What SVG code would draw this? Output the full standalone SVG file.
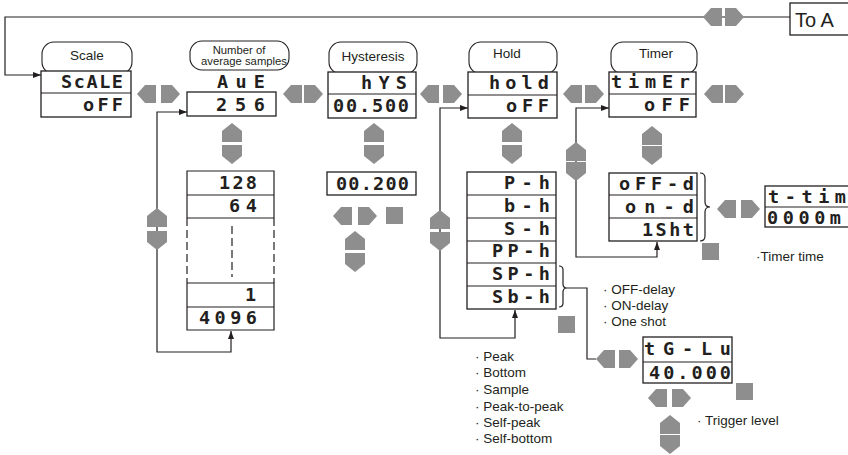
<svg xmlns="http://www.w3.org/2000/svg" xmlns:xlink="http://www.w3.org/1999/xlink" width="848" height="455" viewBox="0 0 848 455">
<style>
.ln{fill:none;stroke:#231f20;stroke-width:1.2}
.bx{fill:#fff;stroke:#231f20;stroke-width:1.3}
.pl{fill:#fff;stroke:#231f20;stroke-width:1.1}
.g{fill:#8e8e8e}
.seg{font-family:"DejaVu Sans Mono",monospace;font-weight:bold;font-size:18.5px;fill:#231f20}
.t{font-family:"Liberation Sans",Arial,sans-serif;font-size:13.5px;fill:#231f20}
.ts{font-family:"Liberation Sans",Arial,sans-serif;font-size:11.3px;fill:#231f20}
.c{text-anchor:middle}
.dash{stroke-dasharray:8,4}
</style>
<defs>
<marker id="ah" viewBox="0 0 8 6" refX="8" refY="3" markerWidth="8" markerHeight="6" markerUnits="userSpaceOnUse" orient="auto"><path d="M0,0 L8,3 L0,6 z" fill="#231f20"/></marker>
<polygon id="al" class="g" points="0,9 8,0 19,0 19,18 8,18"/>
<polygon id="ar" class="g" points="0,0 11,0 19,9 11,18 0,18"/>
<polygon id="au" class="g" points="10,0 20,8 20,19 0,19 0,8"/>
<polygon id="ad" class="g" points="0,0 20,0 20,11 10,19 0,11"/>
<rect id="sq" class="g" width="17" height="17"/>
</defs>
<rect width="848" height="455" fill="#fff"/>

<g id="connectors">
<path class="ln" d="M790,17 H5 V75 H41" marker-end="url(#ah)"/>
<path class="ln" d="M157,230 V112 H187" marker-end="url(#ah)"/>
<path class="ln" d="M157,230 V352 H231 V331" marker-end="url(#ah)"/>
<path class="ln" d="M440,230 V108 H468" marker-end="url(#ah)"/>
<path class="ln" d="M440,230 V338 H515 V310" marker-end="url(#ah)"/>
<path class="ln" d="M576,160 V108 H609" marker-end="url(#ah)"/>
<path class="ln" d="M576,160 V257 H657 V242" marker-end="url(#ah)"/>
<path class="ln" d="M559,266 Q563,266 563,270 L563,284 Q563,288 567,288 Q563,288 563,292 L563,303 Q563,307 559,307"/>
<path class="ln" d="M567,288 H587 V359 H596"/>
<path class="ln" d="M700,173 Q705,173 705,178 L705,202 Q705,207 710,207 Q705,207 705,212 L705,236 Q705,241 700,241"/>
</g>

<g id="keys">
<use href="#al" x="703" y="8"/><use href="#ar" x="725" y="8"/>
<use href="#al" x="137" y="85"/><use href="#ar" x="161" y="85"/>
<use href="#al" x="283" y="85"/><use href="#ar" x="304" y="85"/>
<use href="#al" x="420" y="85"/><use href="#ar" x="443" y="85"/>
<use href="#al" x="563" y="85"/><use href="#ar" x="585" y="85"/>
<use href="#al" x="704" y="85"/><use href="#ar" x="725" y="85"/>
<use href="#al" x="333" y="207"/><use href="#ar" x="358" y="207"/>
<use href="#al" x="717" y="200"/><use href="#ar" x="741" y="200"/>
<use href="#al" x="596" y="350"/><use href="#ar" x="619" y="350"/>
<use href="#al" x="648" y="389"/><use href="#ar" x="672" y="389"/>
<use href="#au" x="222" y="123"/><use href="#ad" x="222" y="145"/>
<use href="#au" x="147" y="208"/><use href="#ad" x="147" y="231"/>
<use href="#au" x="364" y="123"/><use href="#ad" x="364" y="145"/>
<use href="#au" x="345" y="231"/><use href="#ad" x="345" y="253"/>
<use href="#au" x="502" y="123"/><use href="#ad" x="502" y="145"/>
<use href="#au" x="430" y="210"/><use href="#ad" x="430" y="232"/>
<use href="#au" x="642" y="126"/><use href="#ad" x="642" y="146"/>
<use href="#au" x="566" y="142"/><use href="#ad" x="566" y="162"/>
<use href="#au" x="660" y="415"/><use href="#ad" x="660" y="435"/>
<use href="#sq" x="386" y="207"/>
<use href="#sq" x="558" y="316"/>
<use href="#sq" x="702" y="243"/>
<use href="#sq" x="736" y="383"/>
</g>

<g id="to-a">
<rect class="bx" x="790" y="3" width="70" height="32"/>
<text class="t" x="795" y="27" style="font-size:20px">To A</text>
</g>

<g id="scale">
<rect class="pl" x="42" y="42" width="90" height="32" rx="12"/>
<text class="t c" x="87" y="60">Scale</text>
<rect class="bx" x="41" y="71" width="90" height="46"/>
<line class="ln" x1="41" y1="93" x2="131" y2="93"/>
<text class="seg" x="61" y="88" textLength="62" lengthAdjust="spacing">ScALE</text>
<text class="seg" x="83" y="111" textLength="40" lengthAdjust="spacing">oFF</text>
</g>

<g id="average">
<rect class="pl" x="190" y="41" width="99" height="29" rx="12"/>
<text class="ts c" x="239" y="54">Number of</text>
<text class="ts c" x="244" y="65">average samples</text>
<text class="seg" x="217" y="88" textLength="48" lengthAdjust="spacing">AuE</text>
<rect class="bx" x="187" y="92" width="89" height="24"/>
<text class="seg" x="216" y="111" textLength="49" lengthAdjust="spacing">256</text>
</g>

<g id="average-list">
<rect x="187" y="171" width="87" height="159" fill="#fff"/>
<path class="ln" d="M187,218 V171 H274 V218 M187,195 H274 M187,218 H274 M187,283 H274 V330 H187 V283 M187,307 H274"/>
<path class="ln dash" d="M187,218 V283 M274,218 V283 M232,226 V277"/>
<text class="seg" x="219" y="189" textLength="38" lengthAdjust="spacing">128</text>
<text class="seg" x="229" y="212" textLength="28" lengthAdjust="spacing">64</text>
<text class="seg" x="245" y="301">1</text>
<text class="seg" x="199" y="324" textLength="58" lengthAdjust="spacing">4096</text>
</g>

<g id="hysteresis">
<rect class="pl" x="329" y="42" width="88" height="32" rx="12"/>
<text class="t c" x="373" y="61">Hysteresis</text>
<rect class="bx" x="328" y="72" width="88" height="46"/>
<line class="ln" x1="328" y1="94" x2="416" y2="94"/>
<text class="seg" x="361" y="89" textLength="46" lengthAdjust="spacing">hYS</text>
<text class="seg" x="333" y="112" textLength="76" lengthAdjust="spacing">00.500</text>
</g>

<g id="hysteresis-value">
<rect class="bx" x="327" y="172" width="89" height="23"/>
<text class="seg" x="336" y="190" textLength="73" lengthAdjust="spacing">00.200</text>
</g>

<g id="hold">
<rect class="pl" x="469" y="42" width="88" height="32" rx="12"/>
<text class="t c" x="507" y="58">Hold</text>
<rect class="bx" x="468" y="72" width="89" height="46"/>
<line class="ln" x1="468" y1="95" x2="557" y2="95"/>
<text class="seg" x="489" y="89" textLength="60" lengthAdjust="spacing">hold</text>
<text class="seg" x="506" y="112" textLength="43" lengthAdjust="spacing">oFF</text>
</g>

<g id="hold-list">
<rect class="bx" x="467" y="172" width="89" height="137"/>
<path class="ln" d="M467,195 H556 M467,218 H556 M467,241 H556 M467,263 H556 M467,286 H556"/>
<text class="seg" x="504" y="189" textLength="46" lengthAdjust="spacing">P-h</text>
<text class="seg" x="504" y="212" textLength="46" lengthAdjust="spacing">b-h</text>
<text class="seg" x="504" y="235" textLength="46" lengthAdjust="spacing">S-h</text>
<text class="seg" x="492" y="257" textLength="58" lengthAdjust="spacing">PP-h</text>
<text class="seg" x="492" y="280" textLength="58" lengthAdjust="spacing">SP-h</text>
<text class="seg" x="492" y="303" textLength="58" lengthAdjust="spacing">Sb-h</text>
</g>

<g id="hold-types">
<text class="t" x="475" y="361">· Peak</text>
<text class="t" x="475" y="377">· Bottom</text>
<text class="t" x="475" y="394">· Sample</text>
<text class="t" x="475" y="411">· Peak-to-peak</text>
<text class="t" x="475" y="427">· Self-peak</text>
<text class="t" x="475" y="443">· Self-bottom</text>
</g>

<g id="timer">
<rect class="pl" x="611" y="42" width="86" height="32" rx="12"/>
<text class="t c" x="656" y="58">Timer</text>
<rect class="bx" x="609" y="72" width="87" height="45"/>
<line class="ln" x1="609" y1="94" x2="696" y2="94"/>
<text class="seg" x="611" y="88" textLength="79" lengthAdjust="spacing">timEr</text>
<text class="seg" x="644" y="111" textLength="46" lengthAdjust="spacing">oFF</text>
</g>

<g id="timer-list">
<rect class="bx" x="609" y="173" width="88" height="68"/>
<path class="ln" d="M609,195 H697 M609,218 H697"/>
<text class="seg" x="619" y="190" textLength="75" lengthAdjust="spacing">oFF-d</text>
<text class="seg" x="625" y="213" textLength="69" lengthAdjust="spacing">on-d</text>
<text class="seg" x="642" y="236" textLength="52" lengthAdjust="spacing">1Sht</text>
</g>

<g id="timer-types">
<text class="t" x="603" y="294">· OFF-delay</text>
<text class="t" x="603" y="310">· ON-delay</text>
<text class="t" x="603" y="326">· One shot</text>
</g>

<g id="timer-time">
<rect class="bx" x="765" y="186" width="90" height="41"/>
<line class="ln" x1="765" y1="207" x2="848" y2="207"/>
<text class="seg" x="768" y="203" textLength="78" lengthAdjust="spacing">t-tim</text>
<text class="seg" x="767" y="224" textLength="74" lengthAdjust="spacing">0000m</text>
<text class="t" x="756" y="261">·Timer time</text>
</g>

<g id="trigger-level">
<rect class="bx" x="643" y="337" width="89" height="46"/>
<line class="ln" x1="643" y1="362" x2="732" y2="362"/>
<text class="seg" x="644" y="355" textLength="87" lengthAdjust="spacing">tG-Lu</text>
<text class="seg" x="649" y="379" textLength="82" lengthAdjust="spacing">40.000</text>
<text class="t" x="697" y="425">· Trigger level</text>
</g>
</svg>
